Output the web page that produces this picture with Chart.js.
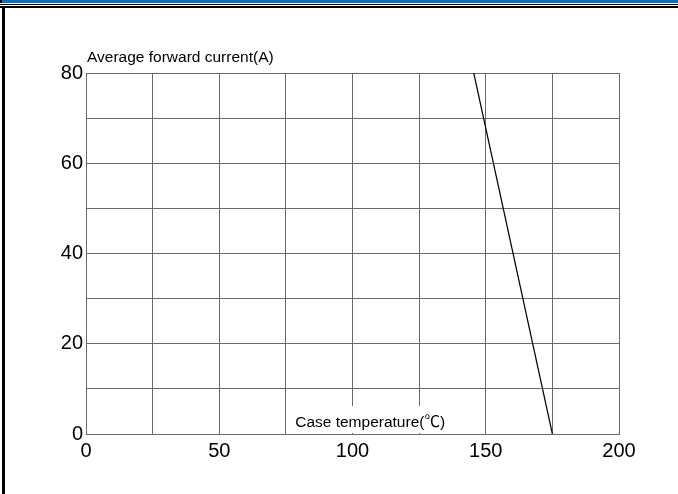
<!DOCTYPE html>
<html>
<head>
<meta charset="utf-8">
<script src="https://cdn.jsdelivr.net/npm/chart.js@4.4.1/dist/chart.umd.min.js"></script>
<style>
  html, body { margin: 0; padding: 0; background: #fff; }
  #wrap { position: relative; width: 678px; height: 494px; overflow: hidden; background: #fff; }
  #c { position: absolute; left: 0; top: 0; }
  .deco { position: absolute; }
</style>
</head>
<body>
<div id="wrap">
  <div class="deco" style="left:0;top:0;width:678px;height:3px;background:#0a6ec0;"></div>
  <div class="deco" style="left:0;top:0;width:2px;height:3px;background:#000;"></div>
  <div class="deco" style="left:0;top:4px;width:678px;height:1px;background:#000;"></div>
  <div class="deco" style="left:0;top:6px;width:678px;height:2px;background:#000;"></div>
  <div class="deco" style="left:2px;top:7px;width:3px;height:487px;background:#000;"></div>
  <canvas id="c" width="678" height="494"></canvas>
</div>
<script>
// ---- data ----
const caseTemp = [145.5, 175];          // x values (°C)
const avgCurrent = [80, 0];             // y values (A)
const xTickLabels = ['0', '50', '100', '150', '200'];
const yTickLabels = ['0', '20', '40', '60', '80'];
const xTitle = 'Case temperature(\u2103)';
const yTitle = 'Average forward current(A)';

const FONT = '"Liberation Sans", Arial, "Noto Sans CJK SC", sans-serif';
const GRID = '#6a6a6a';

const titlesPlugin = {
  id: 'titles',
  afterDatasetsDraw(chart) {
    const ctx = chart.ctx;
    const a = chart.chartArea;
    const xs = chart.scales.x;
    ctx.save();
    // white box behind x title
    const bx0 = xs.getPixelForValue(77);
    const bx1 = xs.getPixelForValue(148);
    ctx.fillStyle = '#fff';
    ctx.fillRect(bx0, a.bottom - 28, bx1 - bx0, 27);
    ctx.fillStyle = '#000';
    ctx.font = '15.5px ' + FONT;
    ctx.textAlign = 'left';
    ctx.textBaseline = 'alphabetic';
    ctx.fillText(xTitle, bx0 + 4, a.bottom - 7);
    ctx.fillText(yTitle, a.left + 1, a.top - 11);
    ctx.restore();
  }
};

new Chart(document.getElementById('c'), {
  type: 'scatter',
  data: {
    datasets: [{
      data: caseTemp.map((x, i) => ({ x: x, y: avgCurrent[i] })),
      showLine: true,
      borderColor: '#000',
      borderWidth: 1.2,
      pointRadius: 0,
      fill: false
    }]
  },
  options: {
    responsive: false,
    animation: false,
    devicePixelRatio: 1,
    layout: { padding: { left: 0, top: 73, right: 59, bottom: 0 } },
    plugins: { legend: { display: false }, tooltip: { enabled: false } },
    scales: {
      x: {
        type: 'linear',
        min: 0, max: 200,
        afterFit(s) { s.height = 60; },
        ticks: {
          stepSize: 25,
          autoSkip: false,
          maxRotation: 0,
          padding: 5,
          color: '#000',
          font: { family: FONT, size: 20 },
          callback: (v) => xTickLabels.includes(String(v)) ? String(v) : ''
        },
        grid: { color: GRID, lineWidth: 1, drawTicks: false },
        border: { color: GRID, width: 1 }
      },
      y: {
        type: 'linear',
        min: 0, max: 80,
        afterFit(s) { s.width = 86; },
        ticks: {
          stepSize: 10,
          autoSkip: false,
          padding: 3,
          color: '#000',
          font: { family: FONT, size: 20 },
          callback: (v) => yTickLabels.includes(String(v)) ? String(v) : ''
        },
        grid: { color: GRID, lineWidth: 1, drawTicks: false },
        border: { color: GRID, width: 1 }
      }
    }
  },
  plugins: [titlesPlugin]
});
</script>
</body>
</html>
